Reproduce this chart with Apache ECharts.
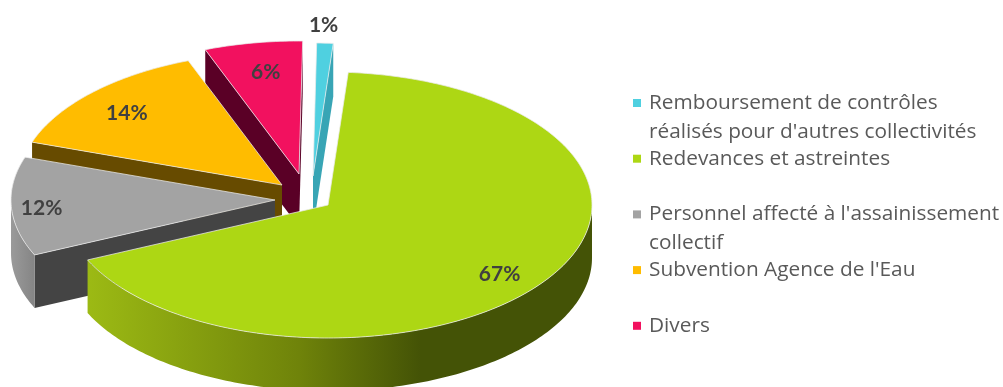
<!DOCTYPE html>
<html lang="fr">
<head>
<meta charset="utf-8">
<style>html,body{margin:0;padding:0;background:#fff}#chart{width:1003px;height:387px}</style>
<script src="https://cdn.jsdelivr.net/npm/echarts@6/dist/echarts.min.js"></script>
</head>
<body>
<div id="chart"></div>
<script>
// Recettes du service, in percent
const categories = [
  "Remboursement de contrôles\nréalisés pour d'autres collectivités",
  "Redevances et astreintes",
  "Personnel affecté à l'assainissement\ncollectif",
  "Subvention Agence de l'Eau",
  "Divers"
];
const values = [1, 67, 12, 14, 6];
const topColors = ['#4FD0E0', '#ADD714', '#A3A3A3', '#FFBC00', '#F2115F'];
const cutColors = ['#38A5B5', '#445306', '#444444', '#674B00', '#5A0026'];

// Pie projection: flattened disc, extruded downwards
const pie = { cx: 305, cy: 194, rx: 264, ry: 133, depth: 53, startDeg: 0.8 };
// How far each slice is pulled out of the pie, in pixels
const explode = [[8, -18], [23, 11], [-30, 6], [-23, -9], [-6, -20]];
// Percent label placement from the slice tip: fraction of the radius, angle shift in degrees
const labelPlace = [[1.153, -0.6], [0.825, 3], [0.885, 0], [0.806, -0.8], [0.79, 0.8]];
const labelDrop = 2;
// Back-to-front painting order of the slices
const paintOrder = [4, 0, 3, 2, 1];

const wallFill = [
  null,
  new echarts.graphic.LinearGradient(0, 0, 1, 0, [
    { offset: 0, color: '#9CBA14' },
    { offset: 0.42, color: '#6F830A' },
    { offset: 0.66, color: '#445306' },
    { offset: 1, color: '#445306' }
  ]),
  new echarts.graphic.LinearGradient(0, 0, 1, 0, [
    { offset: 0, color: '#9A9A9A' },
    { offset: 1, color: '#858585' }
  ]),
  null,
  null
];

const total = values.reduce((a, b) => a + b, 0);
const spans = [];
values.reduce((start, v, i) => {
  const end = start + v / total * 360;
  spans[i] = [start, end];
  return end;
}, pie.startDeg);

const rad = d => d * Math.PI / 180;
const rim = (i, deg, drop) => [
  pie.cx + explode[i][0] + pie.rx * Math.sin(rad(deg)),
  pie.cy + explode[i][1] - pie.ry * Math.cos(rad(deg)) + (drop || 0)
];
const tip = (i, drop) => [pie.cx + explode[i][0], pie.cy + explode[i][1] + (drop || 0)];

function arc(i, from, to, drop) {
  const pts = [];
  const steps = Math.max(2, Math.ceil(Math.abs(to - from)));
  for (let s = 0; s <= steps; s++) pts.push(rim(i, from + (to - from) * s / steps, drop));
  return pts;
}

function cutFace(i, deg) {
  return {
    type: 'polygon',
    shape: { points: [rim(i, deg), tip(i), tip(i, pie.depth), rim(i, deg, pie.depth)] },
    style: { fill: cutColors[i] }
  };
}

function renderSlice(params, api) {
  const i = api.value(0);
  const [a0, a1] = spans[i];
  const children = [];

  // Cut faces turned towards the viewer
  if (Math.sin(rad(a0)) < -0.01) children.push(cutFace(i, a0));
  if (Math.sin(rad(a1)) > 0.01) children.push(cutFace(i, a1));

  // Outer wall, front half of the disc only
  const w0 = Math.max(a0, 90), w1 = Math.min(a1, 270);
  if (w1 > w0) {
    children.push({
      type: 'polygon',
      shape: { points: arc(i, w0, w1).concat(arc(i, w1, w0, pie.depth)) },
      style: { fill: wallFill[i] || cutColors[i] }
    });
  }

  // Top face
  children.push({
    type: 'polygon',
    shape: { points: [tip(i)].concat(arc(i, a0, a1)) },
    style: { fill: topColors[i], stroke: 'rgba(235,235,235,0.75)', lineWidth: 1, lineJoin: 'round' }
  });

  // Percent label
  const [r, shift] = labelPlace[i];
  const mid = (a0 + a1) / 2 + shift;
  const t = tip(i);
  children.push({
    type: 'text',
    z2: 100,
    style: {
      x: t[0] + r * pie.rx * Math.sin(rad(mid)),
      y: t[1] - r * pie.ry * Math.cos(rad(mid)) + labelDrop,
      text: api.value(1) + '%',
      fill: '#404040',
      font: 'bold 21px Lato',
      align: 'center',
      verticalAlign: 'middle'
    }
  });
  return { type: 'group', children };
}

// Legend entries sit on a fixed pitch; wrapped lines hang below the first one
const legend = { x: 649, markX: 633, y: 103, pitch: 55.7, lineHeight: 29, mark: 8 };
const legendItems = [];
categories.forEach((name, i) => {
  const y = legend.y + i * legend.pitch;
  legendItems.push({
    type: 'rect',
    shape: { x: legend.markX, y: y - legend.mark / 2, width: legend.mark, height: legend.mark },
    style: { fill: topColors[i] }
  });
  name.split('\n').forEach((line, k) => {
    legendItems.push({
      type: 'text',
      style: {
        x: legend.x,
        y: y + k * legend.lineHeight,
        text: line,
        fill: '#595959',
        font: '20.8px "Open Sans"',
        verticalAlign: 'middle'
      }
    });
  });
});

const chart = echarts.init(document.getElementById('chart'), null, { renderer: 'canvas' });
chart.setOption({
  animation: false,
  backgroundColor: '#fff',
  graphic: { elements: legendItems },
  series: [{
    type: 'custom',
    coordinateSystem: 'none',
    encode: { value: 1, itemName: 2 },
    data: paintOrder.map(i => [i, values[i], categories[i]]),
    renderItem: renderSlice
  }]
});
</script>
</body>
</html>
